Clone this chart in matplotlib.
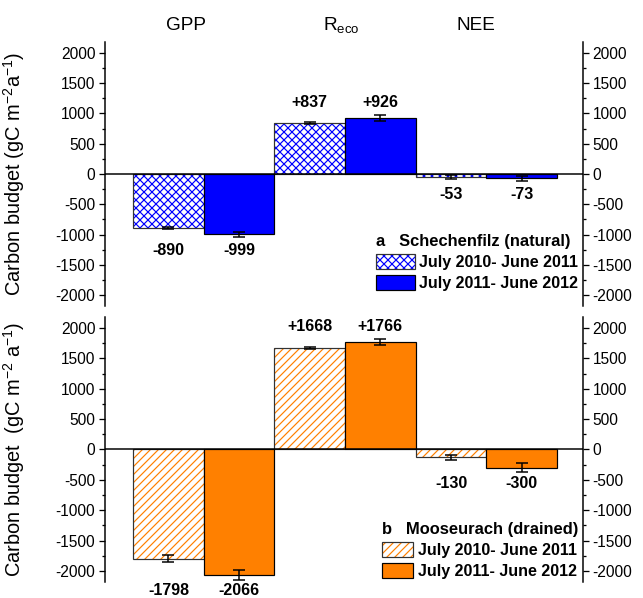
import numpy as np
import matplotlib
matplotlib.use("Agg")
import matplotlib.pyplot as plt
from matplotlib.legend_handler import HandlerTuple

plt.rcParams["font.family"] = ["Liberation Sans", "DejaVu Sans"]
plt.rcParams["mathtext.default"] = "regular"
plt.rcParams["hatch.linewidth"] = 1.2
plt.rcParams["axes.unicode_minus"] = False

#Data
categories = ["GPP", r"$\mathregular{R_{eco}}$", "NEE"]
periods = ["July 2010- June 2011", "July 2011- June 2012"]

natural_2010 = [-890, 837, -53]
natural_2011 = [-999, 926, -73]
natural_err_2010 = [15, 15, 30]
natural_err_2011 = [40, 45, 45]

drained_2010 = [-1798, 1668, -130]
drained_2011 = [-2066, 1766, -300]
drained_err_2010 = [54, 20, 46]
drained_err_2011 = [83, 50, 73]

panels = [
    {"tag": "a   Schechenfilz (natural)", "color": "#0000FF", "hatch": "xxx",
     "v1": natural_2010, "v2": natural_2011, "e1": natural_err_2010, "e2": natural_err_2011,
     "ylabel": r"Carbon budget (gC m$^{-2}$a$^{-1}$)", "hlen": 2.4, "ly": 0.02},
    {"tag": "b   Mooseurach (drained)", "color": "#FF8000", "hatch": "///",
     "v1": drained_2010, "v2": drained_2011, "e1": drained_err_2010, "e2": drained_err_2011,
     "ylabel": r"Carbon budget  (gC m$^{-2}$ a$^{-1}$)", "hlen": 1.95, "ly": -0.025},
]

fig = plt.figure(figsize=(643 / 72, 598 / 72), dpi=72)
axes = [fig.add_axes([0.163, 0.4883, 0.744, 0.4415]),
        fig.add_axes([0.163, 0.0268, 0.744, 0.4431])]

x = np.arange(len(categories)) * 2
for ax, p in zip(axes, panels):
    c = p["color"]
    #hatched bars (first year), hatch layer then outline layer
    h1 = ax.bar(x, p["v1"], width=1, color="white", edgecolor=c, hatch=p["hatch"], linewidth=0)
    o1 = ax.bar(x, p["v1"], width=1, color="none", edgecolor="#333333", linewidth=1.2)
    #solid bars (second year)
    h2 = ax.bar(x + 1, p["v2"], width=1, color=c, edgecolor="black", linewidth=1.2)
    ax.errorbar(x, p["v1"], yerr=p["e1"], fmt="none", ecolor="black", elinewidth=1.5, capsize=6, capthick=1.5)
    ax.errorbar(x + 1, p["v2"], yerr=p["e2"], fmt="none", ecolor="black", elinewidth=1.5, capsize=6, capthick=1.5)

    #value labels, pair shares the same height
    for i in range(len(categories)):
        a, b = p["v1"][i], p["v2"][i]
        ext = max(abs(a), abs(b))
        yl = np.sign(a) * (ext + 262)
        for xx, v in [(x[i], a), (x[i] + 1, b)]:
            s = "{:+d}".format(v) if v > 0 else "{:d}".format(v)
            ax.text(xx, yl, s, ha="center", va="center", fontsize=16, fontweight="bold", clip_on=False)

    ax.axhline(0, color="black", linewidth=1.5)
    ax.set_xlim(-0.9, 5.87)
    ax.set_ylim(-2180, 2180)
    ax.set_yticks(np.arange(-2000, 2001, 500))
    ax.set_yticks(np.arange(-2000, 2001, 250), minor=True)
    ax.set_xticks([])
    for s in ["top", "bottom"]:
        ax.spines[s].set_visible(False)
    for s in ["left", "right"]:
        ax.spines[s].set_linewidth(1.5)
    ax.tick_params(axis="y", which="both", direction="out", right=True, labelright=True, width=1.3, labelsize=15.5)
    ax.tick_params(axis="y", which="major", length=6)
    ax.tick_params(axis="y", which="minor", length=3)
    ax.set_ylabel(p["ylabel"], fontsize=20)
    ax.yaxis.set_label_coords(-0.163, 0.5)

    leg = ax.legend([(h1, o1), h2], periods, handler_map={tuple: HandlerTuple(ndivide=1, pad=0)},
                    loc="lower right", bbox_to_anchor=(1.01, p["ly"]), frameon=False,
                    title=p["tag"], title_fontproperties={"weight": "bold", "size": 16.5},
                    prop={"weight": "bold", "size": 16}, alignment="left",
                    handlelength=p["hlen"], handleheight=1.1, handletextpad=0.3,
                    labelspacing=0.3, borderpad=0.3, borderaxespad=0.3)

#column headers
for i, name in enumerate(categories):
    axes[0].text(x[i] + [0.25, 0.45, 0.35][i], 2460, name, ha="center", va="center", fontsize=19, clip_on=False)

fig.savefig("out.png", dpi=72)
